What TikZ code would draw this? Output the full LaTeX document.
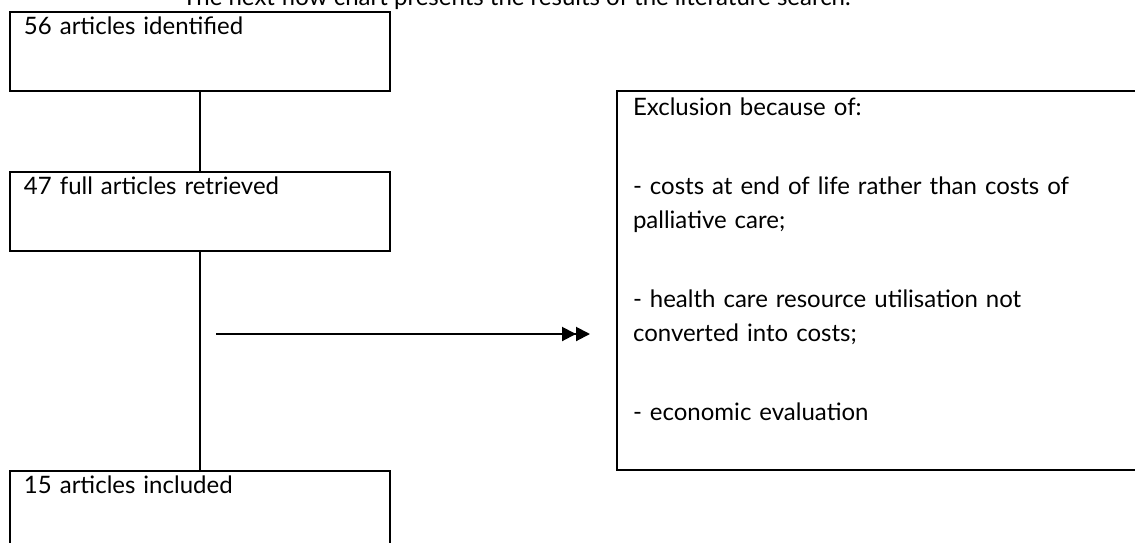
\documentclass[tikz,border=0pt]{standalone}
\usepackage{fontspec}
\setmainfont{Lato}
\usetikzlibrary{arrows.meta}
\begin{document}
\begin{tikzpicture}[x=0.5pt,y=-0.5pt,
  stage/.style={draw=black,line width=1pt,anchor=north west,align=left,
    text width=176pt,inner xsep=7pt,inner ysep=0pt,
    text height=11pt,text depth=28.5pt,font=\fontsize{12}{17}\selectfont},
  link/.style={line width=1pt}]
\useasboundingbox (0,0) rectangle (1135,542);
\clip (0,0) rectangle (1135,542);
% the heading, cut off at the top
\node[anchor=base west,inner sep=0pt,font=\fontsize{12}{17}\selectfont] (head) at (182,5) {The next flow chart presents the results of the literature search.};
%% the stages
\node[stage] (found) at (9,11) {56 articles identified};
\node[stage] (full) at (9,171) {47 full articles retrieved};
\node[stage] (incl) at (9,470) {15 articles included};
%% the exclusions
\node[stage,text width=280pt,inner xsep=8pt,text height=12pt,text depth=177.5pt] (excl) at (616,90)
  {Exclusion because of:\\[22.5pt]
   - costs at end of life rather than costs of\\
   palliative care;\\[22.5pt]
   - health care resource utilisation not\\
   converted into costs;\\[22.5pt]
   - economic evaluation};
% the connectors
\draw[link] (found) -- (full);
\draw[link] (full) -- (incl);
\coordinate (exclFrom) at (216,334);
\coordinate (exclTo) at (590,334);
\draw[link,-{Triangle[length=7pt,width=7pt]Triangle[length=7pt,width=7pt]}] (exclFrom) -- (exclTo);
\end{tikzpicture}
\end{document}
